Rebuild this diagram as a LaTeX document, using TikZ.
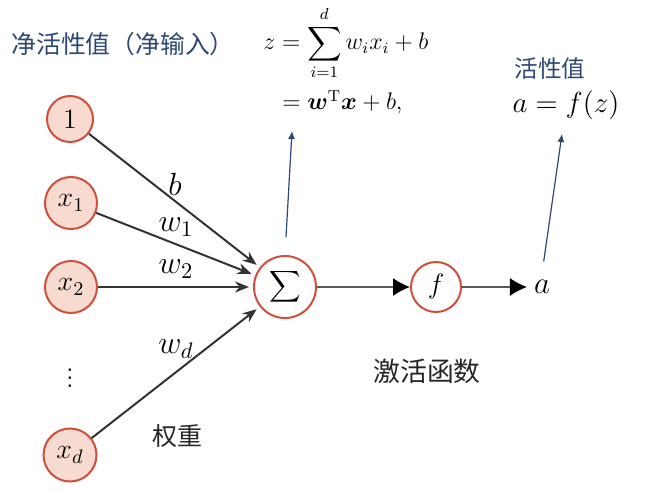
\RequirePackage{fix-cm}
\documentclass[tikz,border=0pt]{standalone}
\usepackage{fontspec}
\usepackage{amsmath}
\usepackage{bm}
\newfontfamily\cjk{Noto Sans CJK SC}
\usetikzlibrary{arrows.meta}
\definecolor{nodered}{HTML}{CF4F3A}
\definecolor{nodefill}{HTML}{F7DBD1}
\definecolor{notenavy}{HTML}{2C4875}
\definecolor{wiregray}{HTML}{333333}

\begin{document}
\begin{tikzpicture}[x=0.5pt, y=-0.5pt,
  inunit/.style={circle, draw=nodered, line width=1pt, fill=nodefill,
                 inner sep=0pt, minimum size=26pt, font=\fontsize{14}{16}\selectfont},
  opunit/.style={circle, draw=nodered, line width=1pt, fill=white,
                 inner sep=0pt, minimum size=25pt},
  arr/.style={-{Stealth[length=7pt, width=5.5pt]}, wiregray, line width=1pt,
              shorten >=2pt},
  flow/.style={-{Latex[length=8.5pt, width=9pt, black]}, black!65, line width=0.7pt},
  note/.style={-{Latex[length=4pt, width=3.5pt]}, notenavy, line width=0.6pt},
  wlbl/.style={font=\fontsize{16}{18}\selectfont},
  cjklbl/.style={font=\cjk\fontsize{12.5}{14}\selectfont, text=black!85},
]
\useasboundingbox (0,0) rectangle (648,491);

% ---- Inputs ----
\node[inunit, minimum size=23pt] (one) at (70,119) {$1$};
\node[inunit] (x1) at (71,203) {$x_1$};
\node[inunit] (x2) at (71,287) {$x_2$};
\node[font=\fontsize{14}{16}\selectfont] (dots) at (70,372) {$\vdots$};
\node[inunit, minimum size=26.5pt] (xd) at (70,455) {$x_d$};

% ---- Sum and activation ----
\node[opunit, minimum size=31pt, font=\fontsize{11}{13}\selectfont] (sum) at (285,287)
  {$\displaystyle\sum$};
\node[opunit, font=\fontsize{14}{16}\selectfont] (act) at (436,287) {$f$};
\node[font=\fontsize{15.5}{17}\selectfont] (out) at (542,287) {$a$};

\draw[arr] (one) -- (sum);
\draw[arr] (x1) -- (sum);
\draw[arr] (x2) -- (sum);
\draw[arr] (xd) -- (sum);

\node[wlbl] (lb) at (175,184) {$b$};
\node[wlbl] (lw1) at (176,227) {$w_1$};
\node[wlbl] (lw2) at (176,269) {$w_2$};
\node[wlbl] (lwd) at (176,349) {$w_d$};

\draw[flow] (sum) -- (act);
\draw[flow] (act) -- (out);

% ---- Notes ----
\node[font=\cjk\fontsize{12.4}{14}\selectfont, text=notenavy] (netlbl) at (123,44)
  {净活性值（净输入）};
\node[font=\fontsize{12}{14}\selectfont, anchor=base west, inner sep=0pt] (zdef) at (263,50)
  {$z = \displaystyle\sum_{i=1}^{d} w_i x_i + b$};
\node[font=\fontsize{12}{14}\selectfont, anchor=base west, inner sep=0pt] (zvec) at (282,110)
  {$= \bm{w}^{\mathrm{T}}\bm{x} + b,$};
\node[font=\cjk\fontsize{11.8}{14}\selectfont, text=notenavy] (actlbl) at (550,69)
  {活性值};
\node[font=\fontsize{14.5}{17}\selectfont] (adef) at (566,105) {$a = f(z)$};

\coordinate (ztip) at (292,131);
\coordinate (atip) at (562,134);
\draw[note, shorten <=9pt] (sum.north) -- (ztip);
\draw[note, shorten <=6pt] (out.north) -- (atip);

\node[cjklbl] (wname) at (177,436) {权重};
\node[cjklbl, font=\cjk\fontsize{13.4}{15}\selectfont] (fname) at (427,371) {激活函数};

\end{tikzpicture}
\end{document}
